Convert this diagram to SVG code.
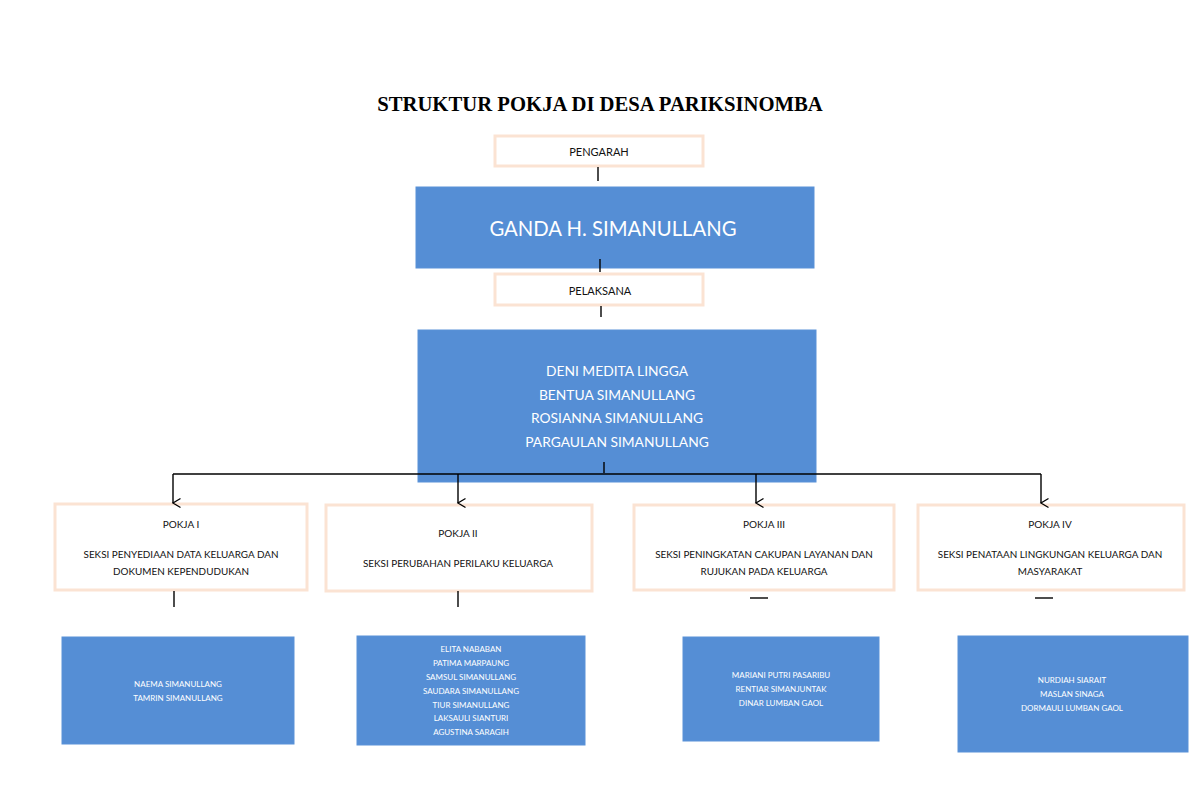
<svg xmlns="http://www.w3.org/2000/svg" width="1200" height="785" viewBox="0 0 1200 785">
<defs>
<marker id="arr" markerWidth="12" markerHeight="12" refX="6" refY="10" orient="auto" markerUnits="userSpaceOnUse" viewBox="0 0 12 12">
<path d="M1.5,2.5 L6,10 L10.5,2.5" fill="none" stroke="#000" stroke-width="1.3"/>
</marker>
</defs>
<style>
.out{fill:#fff;stroke:#fbe3d3;stroke-width:3}
.blue{fill:#558ed5;stroke:#5a92d8;stroke-width:1}
.t{font-family:Lato,"Open Sans","Liberation Sans",sans-serif;text-anchor:middle}
.dk{fill:#111}
.wh{fill:#fff}
.ln{stroke:#000;stroke-width:1.4;fill:none}
</style>
<rect width="1200" height="785" fill="#fff"/>
<text x="600" y="111" font-family="'Liberation Serif','Times New Roman',serif" font-weight="bold" font-size="20.7" text-anchor="middle" fill="#000">STRUKTUR POKJA DI DESA PARIKSINOMBA</text>

<g id="pengarah">
<rect class="out" x="495" y="136" width="208" height="30"/>
<text class="t dk" x="599" y="156" font-size="11">PENGARAH</text>
</g>
<g id="ganda">
<rect class="blue" x="416" y="187" width="398" height="81"/>
<text class="t wh" x="613" y="236" font-size="20.3">GANDA H. SIMANULLANG</text>
</g>
<g id="pelaksana">
<rect class="out" x="495" y="274" width="208" height="31"/>
<text class="t dk" x="600" y="295" font-size="11">PELAKSANA</text>
</g>
<g id="pelaksana-names">
<rect class="blue" x="418" y="330" width="398" height="152"/>
<text class="t wh" x="617" y="376" font-size="13.8">DENI MEDITA LINGGA</text>
<text class="t wh" x="617" y="400" font-size="13.8">BENTUA SIMANULLANG</text>
<text class="t wh" x="617" y="423" font-size="13.8">ROSIANNA SIMANULLANG</text>
<text class="t wh" x="617" y="447" font-size="13.8">PARGAULAN SIMANULLANG</text>
</g>

<g id="pokja1">
<rect class="out" x="55" y="504" width="252" height="86"/>
<text class="t dk" x="181" y="528" font-size="10">POKJA I</text>
<text class="t dk" x="181" y="558" font-size="9.9">SEKSI PENYEDIAAN DATA KELUARGA DAN</text>
<text class="t dk" x="181" y="575" font-size="9.9">DOKUMEN KEPENDUDUKAN</text>
</g>
<g id="pokja2">
<rect class="out" x="326" y="505" width="266" height="86"/>
<text class="t dk" x="458" y="537" font-size="10">POKJA II</text>
<text class="t dk" x="458" y="567" font-size="9.9">SEKSI PERUBAHAN PERILAKU KELUARGA</text>
</g>
<g id="pokja3">
<rect class="out" x="634" y="505" width="260" height="85"/>
<text class="t dk" x="764" y="528" font-size="10">POKJA III</text>
<text class="t dk" x="764" y="558" font-size="9.9">SEKSI PENINGKATAN CAKUPAN LAYANAN DAN</text>
<text class="t dk" x="764" y="575" font-size="9.9">RUJUKAN PADA KELUARGA</text>
</g>
<g id="pokja4">
<rect class="out" x="918" y="505" width="266" height="85"/>
<text class="t dk" x="1050" y="528" font-size="10">POKJA IV</text>
<text class="t dk" x="1050" y="558" font-size="9.9">SEKSI PENATAAN LINGKUNGAN KELUARGA DAN</text>
<text class="t dk" x="1050" y="575" font-size="9.9">MASYARAKAT</text>
</g>

<g id="anggota1">
<rect class="blue" x="62" y="637" width="232" height="107"/>
<text class="t wh" x="178" y="687" font-size="8">NAEMA SIMANULLANG</text>
<text class="t wh" x="178" y="701" font-size="8">TAMRIN SIMANULLANG</text>
</g>
<g id="anggota2">
<rect class="blue" x="357" y="636" width="228" height="109"/>
<text class="t wh" x="471" y="652" font-size="8">ELITA NABABAN</text>
<text class="t wh" x="471" y="666" font-size="8">PATIMA MARPAUNG</text>
<text class="t wh" x="471" y="680" font-size="8">SAMSUL SIMANULLANG</text>
<text class="t wh" x="471" y="694" font-size="8">SAUDARA SIMANULLANG</text>
<text class="t wh" x="471" y="708" font-size="8">TIUR SIMANULLANG</text>
<text class="t wh" x="471" y="721" font-size="8">LAKSAULI SIANTURI</text>
<text class="t wh" x="471" y="735" font-size="8">AGUSTINA SARAGIH</text>
</g>
<g id="anggota3">
<rect class="blue" x="683" y="637" width="196" height="104"/>
<text class="t wh" x="781" y="678" font-size="8">MARIANI PUTRI PASARIBU</text>
<text class="t wh" x="781" y="692" font-size="8">RENTIAR SIMANJUNTAK</text>
<text class="t wh" x="781" y="706" font-size="8">DINAR LUMBAN GAOL</text>
</g>
<g id="anggota4">
<rect class="blue" x="958" y="636" width="230" height="116"/>
<text class="t wh" x="1072" y="683" font-size="8">NURDIAH SIARAIT</text>
<text class="t wh" x="1072" y="697" font-size="8">MASLAN SINAGA</text>
<text class="t wh" x="1072" y="711" font-size="8">DORMAULI LUMBAN GAOL</text>
</g>

<g id="connectors">
<line class="ln" x1="598" y1="167" x2="598" y2="181" stroke-width="2"/>
<line class="ln" x1="600" y1="259" x2="600" y2="272" stroke-width="2"/>
<line class="ln" x1="601" y1="306" x2="601" y2="317" stroke-width="2"/>
<line class="ln" x1="604" y1="462" x2="604" y2="473" stroke-width="2"/>
<line class="ln" x1="173" y1="474" x2="1041" y2="474"/>
<line class="ln" x1="173" y1="474" x2="173" y2="503" marker-end="url(#arr)"/>
<line class="ln" x1="458" y1="474" x2="458" y2="503" marker-end="url(#arr)"/>
<line class="ln" x1="756" y1="474" x2="756" y2="503" marker-end="url(#arr)"/>
<line class="ln" x1="1041" y1="474" x2="1041" y2="503" marker-end="url(#arr)"/>
<line class="ln" x1="174" y1="591" x2="174" y2="607"/>
<line class="ln" x1="458" y1="591" x2="458" y2="607"/>
<line class="ln" x1="750" y1="598" x2="768" y2="598" stroke-width="2"/>
<line class="ln" x1="1035" y1="598" x2="1053" y2="598" stroke-width="2"/>
</g>
</svg>
